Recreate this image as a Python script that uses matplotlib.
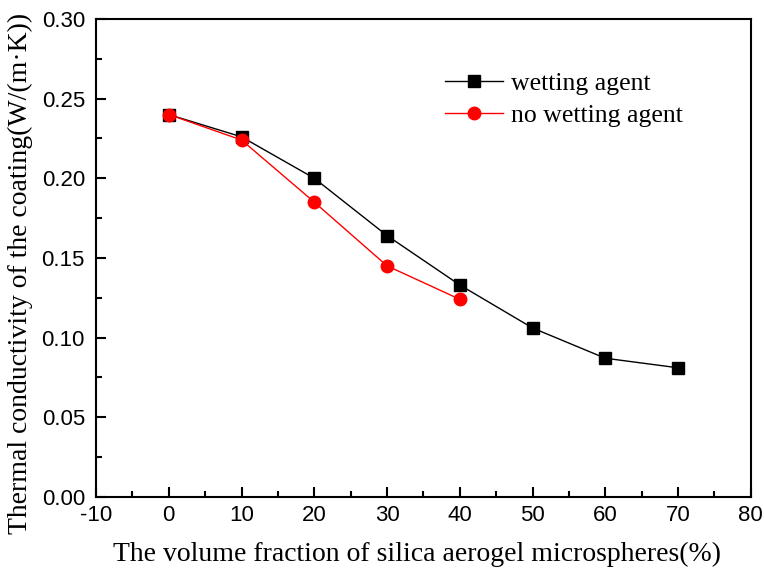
import matplotlib
matplotlib.use("Agg")
import matplotlib.pyplot as plt
from matplotlib.ticker import MultipleLocator, FormatStrFormatter

plt.rcParams["axes.unicode_minus"] = False

# volume fraction (%)
x_wet = [0, 10, 20, 30, 40, 50, 60, 70]
k_wet = [0.240, 0.226, 0.200, 0.164, 0.133, 0.106, 0.087, 0.081]
x_nowet = [0, 10, 20, 30, 40]
k_nowet = [0.240, 0.224, 0.185, 0.145, 0.124]

serif = "Liberation Serif"
sans = "Liberation Sans"

fig = plt.figure(figsize=(7.64, 5.75), dpi=100, facecolor="white")
ax = fig.add_axes([0.1257, 0.136, 0.857, 0.831])

ax.plot(x_wet, k_wet, color="black", marker="s", markersize=9, linewidth=1,
        label="wetting agent", zorder=3)
ax.plot(x_nowet, k_nowet, color="red", marker="o", markersize=9, linewidth=1,
        label="no wetting agent", zorder=4)

ax.set_xlim(-10, 80)
ax.set_ylim(0, 0.30)
ax.xaxis.set_major_locator(MultipleLocator(10))
ax.xaxis.set_minor_locator(MultipleLocator(5))
ax.yaxis.set_major_locator(MultipleLocator(0.05))
ax.yaxis.set_minor_locator(MultipleLocator(0.025))
ax.yaxis.set_major_formatter(FormatStrFormatter("%.2f"))

ax.tick_params(which="major", direction="in", length=7, width=1.5, top=False, right=False)
ax.tick_params(which="minor", direction="in", length=4, width=1.5, top=False, right=False)
ax.tick_params(axis="x", which="major", pad=6)
ax.tick_params(axis="y", which="major", pad=8)
for lbl in ax.get_xticklabels() + ax.get_yticklabels():
    lbl.set_fontfamily(sans)
    lbl.set_fontsize(16)
for spine in ax.spines.values():
    spine.set_linewidth(1.5)

ax.set_xlabel("The volume fraction of silica aerogel microspheres(%)",
              fontfamily=serif, fontsize=20)
ax.xaxis.set_label_coords(0.49, -0.094)
ax.set_ylabel("Thermal conductivity of the coating(W/(m\u00b7K))",
              fontfamily=serif, fontsize=20)
ax.yaxis.set_label_coords(-0.096, 0.467)

ax.legend(loc="upper left", bbox_to_anchor=(0.533, 0.888), frameon=False,
          prop={"family": serif, "size": 18.5}, handlelength=2.25,
          handletextpad=0.3, labelspacing=0.32, borderpad=0, borderaxespad=0)

plt.savefig("out.png", dpi=100, facecolor="white")
